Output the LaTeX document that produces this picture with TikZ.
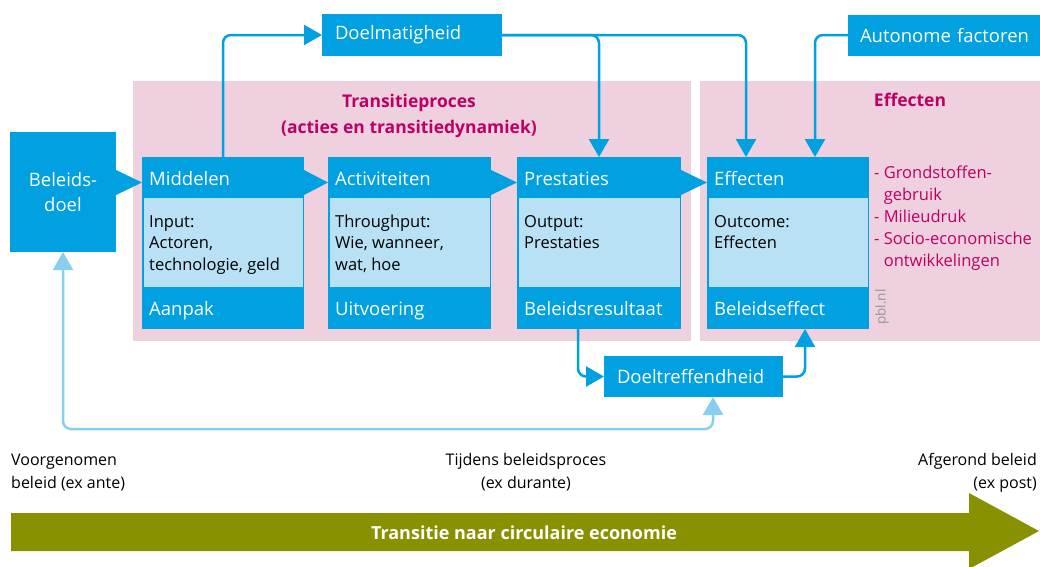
\documentclass[tikz,border=0pt]{standalone}
\usepackage{fontspec}
\setmainfont{Open Sans}
\usetikzlibrary{arrows.meta,calc}
\definecolor{pblblue}{RGB}{0,160,225}
\definecolor{pbllight}{RGB}{184,225,245}
\definecolor{pblpink}{RGB}{238,208,222}
\definecolor{pblmag}{RGB}{190,0,100}
\definecolor{pblline}{RGB}{135,206,240}
\definecolor{pblolive}{RGB}{136,145,0}
\definecolor{pblgray}{RGB}{150,150,150}
\begin{document}
\begin{tikzpicture}[x=1pt,y=-1pt,
  box/.style={fill=pblblue, draw=none, inner sep=0pt, outer sep=0pt, anchor=north west},
  pbox/.style={box, minimum width=162pt, minimum height=172pt},
  lbox/.style={box, text=white, align=left, inner xsep=13pt, font=\fontsize{18.5}{22}\selectfont},
  hdr/.style={anchor=base west, text=white, inner sep=0pt, font=\fontsize{18.5}{22}\selectfont},
  btxt/.style={anchor=base west, text=black, inner sep=0pt, align=left, font=\fontsize{16.5}{21.5}\selectfont},
  ttl/.style={anchor=base, text=pblmag, inner sep=0pt, font=\fontsize{17.5}{26}\selectfont\bfseries},
  tl/.style={text=black, inner sep=0pt, font=\fontsize{16}{23}\selectfont},
  bg/.style={fill=pblpink, draw=none, inner sep=0pt, outer sep=0pt, anchor=north west},
  conn/.style={draw=pblblue, line width=2.5pt, rounded corners=8pt, -{Triangle[width=20pt,length=18pt]}},
  lconn/.style={draw=pblline, line width=2.5pt, rounded corners=8pt, {Triangle[width=20pt,length=18pt]}-{Triangle[width=20pt,length=18pt]}},
  hdarrow/.style={fill=pblblue, draw=none}
]
\useasboundingbox (0,0) rectangle (1040,566);

% pink backgrounds
\node[bg, minimum width=558pt, minimum height=260pt] (tpbg) at (133,81) {};
\node[bg, minimum width=345pt, minimum height=260pt] (efbg) at (700,81) {};
\node[ttl] (tptitle) at (409,107) {Transitieproces};
\node[ttl] (tptitle2) at (409,133) {(acties en transitiedynamiek)};
\node[ttl] (eftitle) at (910,106) {Effecten};

% beleidsdoel
\node[box, minimum width=106pt, minimum height=120pt, text=white, align=center,
      font=\fontsize{18.5}{25}\selectfont] (beleid) at (10,132) {Beleids-\\doel};

% process boxes
\node[pbox] (mid) at (142,157) {};
\node[pbox, minimum width=163pt] (act) at (328,157) {};
\node[pbox, minimum width=164pt] (prest) at (517,157) {};
\node[pbox] (eff) at (707,157) {};
\foreach \b in {mid,act,prest,eff}{
  \fill[pbllight] ($(\b.north west)+(1.5,41)$) rectangle ($(\b.south east)+(-1.5,-42)$);
}
\node[hdr] (midh) at ($(mid.north west)+(7,28)$) {Middelen};
\node[hdr] (acth) at ($(act.north west)+(7,28)$) {Activiteiten};
\node[hdr] (presth) at ($(prest.north west)+(7,28)$) {Prestaties};
\node[hdr] (effh) at ($(eff.north west)+(7,28)$) {Effecten};
\node[btxt] (midb) at ($(mid.north west)+(7,113)$) {Input:\\Actoren,\\technologie, geld};
\node[btxt] (actb) at ($(act.north west)+(7,113)$) {Throughput:\\Wie, wanneer,\\wat, hoe};
\node[btxt] (prestb) at ($(prest.north west)+(7,91.5)$) {Output:\\Prestaties};
\node[btxt] (effb) at ($(eff.north west)+(7,91.5)$) {Outcome:\\Effecten};
\node[hdr] (midf) at ($(mid.north west)+(7,158)$) {Aanpak};
\node[hdr] (actf) at ($(act.north west)+(7,158)$) {Uitvoering};
\node[hdr] (prestf) at ($(prest.north west)+(7,158)$) {Beleidsresultaat};
\node[hdr] (efff) at ($(eff.north west)+(7,158)$) {Beleidseffect};

% header arrows
\fill[hdarrow] ($(beleid.east |- mid.north)+(0,13)$) -- ($(mid.north west)+(0,25.5)$) -- ($(beleid.east |- mid.north)+(0,38)$) -- cycle;
\fill[hdarrow] ($(mid.north east)+(0,13)$) -- ($(act.north west)+(0,25.5)$) -- ($(mid.north east)+(0,38)$) -- cycle;
\fill[hdarrow] ($(act.north east)+(0,13)$) -- ($(prest.north west)+(0,25.5)$) -- ($(act.north east)+(0,38)$) -- cycle;
\fill[hdarrow] ($(prest.north east)+(0,13)$) -- ($(eff.north west)+(0,25.5)$) -- ($(prest.north east)+(0,38)$) -- cycle;

% list
\node[anchor=base west, text=pblmag, inner sep=0pt, align=left, font=\fontsize{16.5}{22}\selectfont] (lst) at (874,266)
  {- Grondstoffen-\\\hphantom{- }gebruik\\- Milieudruk\\- Socio-economische\\\hphantom{- }ontwikkelingen};
\node[rotate=90, text=pblgray, inner sep=0pt, font=\fontsize{13.5}{13.5}\selectfont] (pbl) at (882,307) {pbl.nl};

% small boxes
\node[lbox, text width=154pt, minimum height=42pt] (doelm) at (322,14) {Doelmatigheid};
\node[lbox, text width=185pt, inner xsep=12pt, minimum height=41pt] (auton) at (848,15) {Autonome factoren};
\node[lbox, text width=153pt, minimum height=41pt] (doelt) at (604,356) {Doeltreffendheid};

% connector points
\coordinate (effA) at ($(eff.north west)+(39,0)$);
\coordinate (effB) at ($(eff.north west)+(108,0)$);
\coordinate (prestB) at ($(prest.south west)+(61,0)$);
\coordinate (effC) at ($(eff.south west)+(98,0)$);
\coordinate (fbB) at ($(doelt.south west)+(109,0)$);
\coordinate (fbLow) at (0,429);

\draw[conn] (mid.north) |- (doelm.west);
\draw[conn] (doelm.east) -| (prest.north);
\draw[conn] (doelm.east) -| (effA);
\draw[conn] (auton.west |- doelm.west) -| (effB);
\draw[conn] (prestB) |- (doelt.west);
\draw[conn] (doelt.east) -| (effC);
\draw[lconn] (beleid.south) -- (beleid.south |- fbLow) -| (fbB);

% timeline labels
\node[tl, anchor=base west, align=left] (ante) at (11,488) {Voorgenomen\\beleid (ex ante)};
\node[tl, anchor=base, align=center] (durante) at (526,488) {Tijdens beleidsproces\\(ex durante)};
\node[tl, anchor=base east, align=right] (post) at (1037,488) {Afgerond beleid\\(ex post)};

% big arrow
\fill[pblolive] (11,513) -- (969,513) -- (969,493) -- (1039,531) -- (969,569) -- (969,551) -- (11,551) -- cycle;
\node[anchor=base, text=white, inner sep=0pt, font=\fontsize{18}{20}\selectfont\bfseries] (trans) at (524,539) {Transitie naar circulaire economie};
\end{tikzpicture}
\end{document}
